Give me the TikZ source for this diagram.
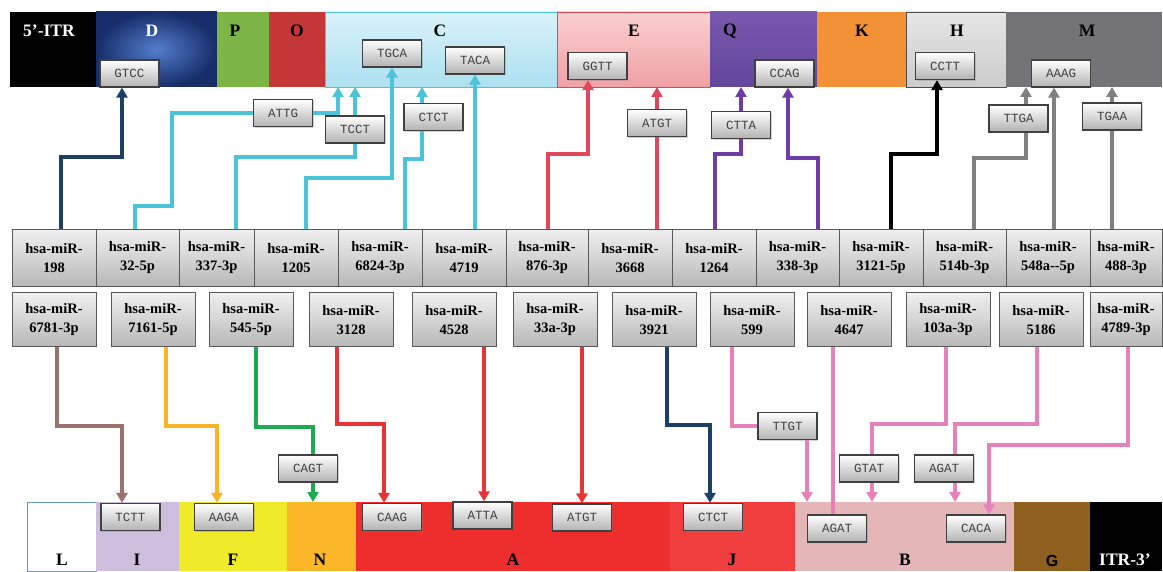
\documentclass[tikz,border=0pt]{standalone}
\usepackage{fontspec}
\setmainfont{Liberation Serif}
\setsansfont{Liberation Sans}
\setmonofont{Liberation Mono}
\usepackage{tikz}
\usetikzlibrary{arrows.meta,shadows}
\definecolor{navyc}{RGB}{28,63,102}
\definecolor{cyanc}{RGB}{75,195,216}
\definecolor{rosec}{RGB}{222,72,90}
\definecolor{purpc}{RGB}{110,60,165}
\definecolor{grayc}{RGB}{128,128,128}
\definecolor{brownc}{RGB}{155,115,110}
\definecolor{orngc}{RGB}{250,180,40}
\definecolor{greenc}{RGB}{30,170,80}
\definecolor{redc}{RGB}{232,52,56}
\definecolor{pinkc}{RGB}{230,130,185}
\newcommand{\lnw}{4pt}

\begin{document}
\begin{tikzpicture}[x=1pt,y=-1pt,
  seg/.style={inner sep=0,outer sep=0},
  seglab/.style={font=\fontsize{17.5}{20}\selectfont\bfseries},
  mir/.style={draw=black!65,line width=1pt,top color=black!6,bottom color=black!28,
    align=center,inner sep=0,minimum height=57,font=\fontsize{14.5}{19}\selectfont\bfseries},
  mirb/.style={mir,minimum width=84,minimum height=54},
  seq/.style={draw=black!75,line width=1.2pt,top color=white,bottom color=black!30,
    minimum width=59,minimum height=27,inner sep=0,font=\fontsize{12.5}{14}\selectfont\ttfamily,
    text=black!75,drop shadow={shadow xshift=1.2pt,shadow yshift=-1.2pt,opacity=.35}},
  link/.style={line width=\lnw,-{Triangle[width=11pt,length=10pt]}},
  bare/.style={line width=\lnw}]
\useasboundingbox (0,0) rectangle (1163,572);

% genome, top
\node (segITR5) at (53,49.5) [seg, minimum width=86, minimum height=75, fill=black] {};
\node (segD) at (156.5,49.5) [seg, minimum width=121, minimum height=75, inner color={rgb,255:red,85;green,125;blue,205}, outer color={rgb,255:red,22;green,45;blue,105}] {};
\node (segP) at (243,49.5) [seg, minimum width=52, minimum height=75, fill={rgb,255:red,125;green,180;blue,70}] {};
\node (segO) at (297,49.5) [seg, minimum width=56, minimum height=75, fill={rgb,255:red,195;green,55;blue,55}] {};
\node (segC) at (441,49.5) [seg, minimum width=232, minimum height=75, draw=cyanc, top color={rgb,255:red,218;green,242;blue,250}, bottom color={rgb,255:red,172;green,224;blue,240}] {};
\node (segE) at (633.5,49.5) [seg, minimum width=153, minimum height=75, draw=rosec, top color={rgb,255:red,250;green,208;blue,208}, bottom color={rgb,255:red,240;green,160;blue,165}] {};
\node (segQ) at (763.5,49.5) [seg, minimum width=107, minimum height=75, top color={rgb,255:red,120;green,88;blue,172}, bottom color={rgb,255:red,98;green,70;blue,155}] {};
\node (segK) at (861.5,49.5) [seg, minimum width=89, minimum height=75, fill={rgb,255:red,243;green,145;blue,55}] {};
\node (segH) at (956,49.5) [seg, minimum width=100, minimum height=75, draw=black!70, top color=black!10, bottom color=black!20] {};
\node (segM) at (1084,49.5) [seg, minimum width=156, minimum height=75, fill={rgb,255:red,115;green,115;blue,120}] {};

\node (labITR5) at (49,31) [seglab, text=white] {5'-ITR};
\node (labD) at (152,31) [seglab, text=white] {D};
\node (labP) at (235,31) [seglab] {P};
\node (labO) at (297,31) [seglab] {O};
\node (labC) at (440,31) [seglab] {C};
\node (labE) at (634,31) [seglab] {E};
\node (labQ) at (730,31) [seglab] {Q};
\node (labK) at (862,31) [seglab] {K};
\node (labH) at (957,31) [seglab] {H};
\node (labM) at (1087,31) [seglab] {M};

\node (gtcc) at (129.5,73.5) [seq] {GTCC};
\node (tgca) at (392,53.5) [seq] {TGCA};
\node (taca) at (475,60.5) [seq] {TACA};
\node (ggtt) at (597.5,66) [seq] {GGTT};
\node (ccag) at (784.5,73.5) [seq] {CCAG};
\node (cctt) at (945,66) [seq] {CCTT};
\node (aaag) at (1061,73.5) [seq] {AAAG};

% genome, bottom
\node (segL) at (61.5,536.5) [seg, minimum width=69, minimum height=69, draw={rgb,255:red,100;green,150;blue,200}, fill=white] {};
\node (segI) at (137.5,536.5) [seg, minimum width=83, minimum height=69, fill={rgb,255:red,205;green,190;blue,222}] {};
\node (segF) at (233,536.5) [seg, minimum width=108, minimum height=69, fill={rgb,255:red,240;green,235;blue,40}] {};
\node (segN) at (321.5,536.5) [seg, minimum width=69, minimum height=69, fill={rgb,255:red,252;green,183;blue,40}] {};
\node (segA) at (513,536.5) [seg, minimum width=314, minimum height=69, fill={rgb,255:red,238;green,45;blue,45}] {};
\node (segJ) at (732.5,536.5) [seg, minimum width=125, minimum height=69, fill={rgb,255:red,240;green,62;blue,62}] {};
\node (segB) at (904.5,536.5) [seg, minimum width=219, minimum height=69, fill={rgb,255:red,228;green,182;blue,184}] {};
\node (segG) at (1052,536.5) [seg, minimum width=76, minimum height=69, fill={rgb,255:red,143;green,95;blue,30}] {};
\node (segITR3) at (1126,536.5) [seg, minimum width=72, minimum height=69, fill=black] {};

\node (labL) at (62,560) [seglab] {L};
\node (labI) at (137,560) [seglab] {I};
\node (labF) at (233,560) [seglab] {F};
\node (labN) at (320,560) [seglab] {N};
\node (labA) at (513,560) [seglab] {A};
\node (labJ) at (732,560) [seglab] {J};
\node (labB) at (905,560) [seglab] {B};
\node (labG) at (1052,561) [seglab, font=\fontsize{16}{18}\selectfont\sffamily\bfseries] {G};
\node (labITR3) at (1125,560) [seglab, text=white] {ITR-3'};

\node (tctt) at (130.5,517) [seq] {TCTT};
\node (aaga) at (224,517) [seq] {AAGA};
\node (caag) at (392,517) [seq] {CAAG};
\node (atta) at (482.5,515.5) [seq] {ATTA};
\node (atgtb) at (582,517.5) [seq] {ATGT};
\node (ctctb) at (713,517) [seq] {CTCT};
\node (agatb) at (837,528.5) [seq] {AGAT};
\node (caca) at (976,528.5) [seq] {CACA};

% miRNAs
\node (m198) at (54,258) [mir, minimum width=84] {hsa-miR-\\198};
\node (m32) at (137.5,258) [mir, minimum width=83] {hsa-miR-\\32-5p};
\node (m337) at (216.5,258) [mir, minimum width=75] {hsa-miR-\\337-3p};
\node (m1205) at (296,258) [mir, minimum width=84] {hsa-miR-\\1205};
\node (m6824) at (380,258) [mir, minimum width=84] {hsa-miR-\\6824-3p};
\node (m4719) at (464,258) [mir, minimum width=84] {hsa-miR-\\4719};
\node (m876) at (547,258) [mir, minimum width=82] {hsa-miR-\\876-3p};
\node (m3668) at (630,258) [mir, minimum width=84] {hsa-miR-\\3668};
\node (m1264) at (714,258) [mir, minimum width=84] {hsa-miR-\\1264};
\node (m338) at (797.5,258) [mir, minimum width=83] {hsa-miR-\\338-3p};
\node (m3121) at (881,258) [mir, minimum width=84] {hsa-miR-\\3121-5p};
\node (m514) at (964.5,258) [mir, minimum width=83] {hsa-miR-\\514b-3p};
\node (m548) at (1048,258) [mir, minimum width=84] {hsa-miR-\\548a-{}-5p};
\node (m488) at (1126,258) [mir, minimum width=72] {hsa-miR-\\488-3p};

\node (m6781) at (54,320) [mirb] {hsa-miR-\\6781-3p};
\node (m7161) at (153,320) [mirb] {hsa-miR-\\7161-5p};
\node (m545) at (251,320) [mirb] {hsa-miR-\\545-5p};
\node (m3128) at (351,320) [mirb] {hsa-miR-\\3128};
\node (m4528) at (454,320) [mirb] {hsa-miR-\\4528};
\node (m33a) at (555,320) [mirb] {hsa-miR-\\33a-3p};
\node (m3921) at (654,320) [mirb] {hsa-miR-\\3921};
\node (m599) at (752,320) [mirb] {hsa-miR-\\599};
\node (m4647) at (849,320) [mirb] {hsa-miR-\\4647};
\node (m103a) at (948,320) [mirb] {hsa-miR-\\103a-3p};
\node (m5186) at (1041,320) [mirb] {hsa-miR-\\5186};
\node (m4789) at (1126,320) [mirb, minimum width=72] {hsa-miR-\\4789-3p};

% sites on the links
\node (attg) at (283,113) [seq] {ATTG};
\node (tcct) at (355,129.5) [seq] {TCCT};
\node (ctct) at (433.5,117) [seq] {CTCT};
\node (atgt) at (657,123) [seq] {ATGT};
\node (ctta) at (741,125) [seq] {CTTA};
\node (ttga) at (1018.5,118.5) [seq] {TTGA};
\node (tgaa) at (1112,116.5) [seq] {TGAA};
\node (cagt) at (308,468.5) [seq] {CAGT};
\node (ttgt) at (787.5,426) [seq] {TTGT};
\node (gtat) at (869,468.5) [seq] {GTAT};
\node (agat) at (944,468.5) [seq] {AGAT};

% links up
\draw[navyc, link] (61,0 |- m198.north) |- (122,157) -- (122,0 |- gtcc.south);
\draw[cyanc, bare] (135,0 |- m32.north) |- (172,206) |- (attg.west);
\draw[cyanc, link] (attg.east) -| (338,0 |- segC.south);
\draw[cyanc, bare] (236,0 |- m337.north) |- (355,157) -- (tcct.south);
\draw[cyanc, link] (tcct.north) -- (355,0 |- segC.south);
\draw[cyanc, link] (306,0 |- m1205.north) |- (392,178) -- (tgca.south);
\draw[cyanc, bare] (405,0 |- m6824.north) |- (422,159) -- (422,0 |- ctct.south);
\draw[cyanc, link] (422,0 |- ctct.north) -- (422,0 |- segC.south);
\draw[cyanc, link] (475,0 |- m4719.north) -- (taca.south);
\draw[rosec, link] (548,0 |- m876.north) |- (588,154) -- (588,0 |- ggtt.south);
\draw[rosec, bare] (657,0 |- m3668.north) -- (atgt.south);
\draw[rosec, link] (atgt.north) -- (657,0 |- segE.south);
\draw[purpc, bare] (715,0 |- m1264.north) |- (741,154) -- (ctta.south);
\draw[purpc, link] (ctta.north) -- (741,0 |- segQ.south);
\draw[purpc, link] (818,0 |- m338.north) |- (788,158) -- (788,0 |- ccag.south);
\draw[black, link] (891,0 |- m3121.north) |- (937,154) -- (937,0 |- cctt.south);
\draw[grayc, bare] (974,0 |- m514.north) |- (1026,158) -- (1026,0 |- ttga.south);
\draw[grayc, link] (1026,0 |- ttga.north) -- (1026,0 |- segM.south);
\draw[grayc, link] (1054,0 |- m548.north) -- (1054,0 |- aaag.south);
\draw[grayc, bare] (1112,0 |- m488.north) -- (tgaa.south);
\draw[grayc, link] (tgaa.north) -- (1112,0 |- segM.south);

% links down
\draw[brownc, link] (57,0 |- m6781.south) |- (122,426) -- (122,0 |- tctt.north);
\draw[orngc, link] (166,0 |- m7161.south) |- (217,426) -- (217,0 |- aaga.north);
\draw[greenc, bare] (256,0 |- m545.south) |- (313,427) -- (313,0 |- cagt.north);
\draw[greenc, link] (313,0 |- cagt.south) -- (313,0 |- segN.north);
\draw[redc, link] (337,0 |- m3128.south) |- (384,424) -- (384,0 |- caag.north);
\draw[redc, link] (484,0 |- m4528.south) -- (484,0 |- atta.north);
\draw[redc, link] (582,0 |- m33a.south) -- (atgtb.north);
\draw[navyc, link] (667,0 |- m3921.south) |- (710,425) -- (710,0 |- ctctb.north);
\draw[pinkc, bare] (732,0 |- m599.south) |- (ttgt.west);
\draw[pinkc, link] (807,0 |- ttgt.south) -- (807,0 |- segB.north);
\draw[pinkc, bare] (833,0 |- m4647.south) -- (833,0 |- agatb.north);
\draw[pinkc, bare] (946,0 |- m103a.south) |- (872,424) -- (872,0 |- gtat.north);
\draw[pinkc, link] (872,0 |- gtat.south) -- (872,0 |- segB.north);
\draw[pinkc, bare] (1037,0 |- m5186.south) |- (955,424) -- (955,0 |- agat.north);
\draw[pinkc, link] (955,0 |- agat.south) -- (955,0 |- segB.north);
\draw[pinkc, link] (1128,0 |- m4789.south) |- (989,445) -- (989,0 |- caca.north);
\end{tikzpicture}
\end{document}
